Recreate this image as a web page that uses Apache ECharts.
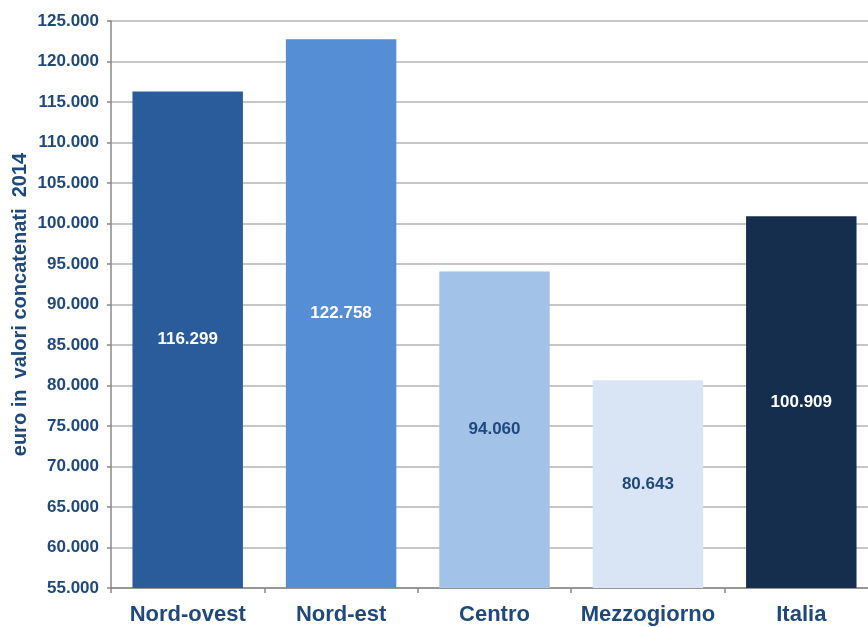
<!DOCTYPE html>
<html>
<head>
<meta charset="utf-8">
<script src="https://cdn.jsdelivr.net/npm/echarts@6/dist/echarts.min.js"></script>
<style>html,body{margin:0;padding:0;background:#fff;}#c{width:868px;height:627px;}</style>
</head>
<body>
<div id="c"></div>
<script>
var categories = ['Nord-ovest', 'Nord-est', 'Centro', 'Mezzogiorno', 'Italia'];
var values = [116299, 122758, 94060, 80643, 100909];
var barColors = ['#2A5B9B', '#558ED5', '#A2C2E8', '#D9E5F5', '#152E4D'];
var labelColors = ['#FFFFFF', '#FFFFFF', '#1F497D', '#1F497D', '#FFFFFF'];
var yAxisName = 'euro in  valori concatenati  2014';

function fmt(v) {
  return String(v).replace(/\B(?=(\d{3})+(?!\d))/g, '.');
}

var chart = echarts.init(document.getElementById('c'));
chart.setOption({
  animation: false,
  grid: { left: 111, width: 767, top: 21, height: 567, containLabel: false, outerBoundsMode: 'none' },
  xAxis: {
    type: 'category',
    data: categories,
    axisLine: { lineStyle: { color: '#888888', width: 1.5 } },
    axisTick: { show: true, alignWithLabel: false, length: 5, lineStyle: { color: '#888888', width: 1.5 } },
    axisLabel: { interval: 0, color: '#1F497D', fontFamily: 'Liberation Sans, Arial', fontWeight: 'bold', fontSize: 22, margin: 16 }
  },
  yAxis: {
    type: 'value',
    min: 55000, max: 125000, interval: 5000,
    name: yAxisName,
    nameLocation: 'middle',
    nameMoveOverlap: false,
    nameGap: 81,
    nameTextStyle: { color: '#1F497D', fontFamily: 'Liberation Sans, Arial', fontWeight: 'bold', fontSize: 20 },
    axisLine: { show: true, lineStyle: { color: '#888888', width: 1.5 } },
    axisTick: { show: true, inside: false, length: 4, lineStyle: { color: '#888888', width: 1.5 } },
    axisLabel: { color: '#1F497D', fontFamily: 'Liberation Sans, Arial', fontWeight: 'bold', fontSize: 17, margin: 12, formatter: function (v) { return fmt(v); } },
    splitLine: { show: true, lineStyle: { color: '#B4B4B4', width: 1.5 } }
  },
  series: [{
    type: 'bar',
    barCategoryGap: '28%',
    data: values.map(function (v, i) {
      return {
        value: v,
        itemStyle: { color: barColors[i] },
        label: { color: labelColors[i] }
      };
    }),
    label: {
      show: true,
      position: 'inside',
      fontFamily: 'Liberation Sans, Arial',
      fontWeight: 'bold',
      fontSize: 17,
      formatter: function (p) { return fmt(p.value); }
    }
  }]
});
</script>
</body>
</html>
